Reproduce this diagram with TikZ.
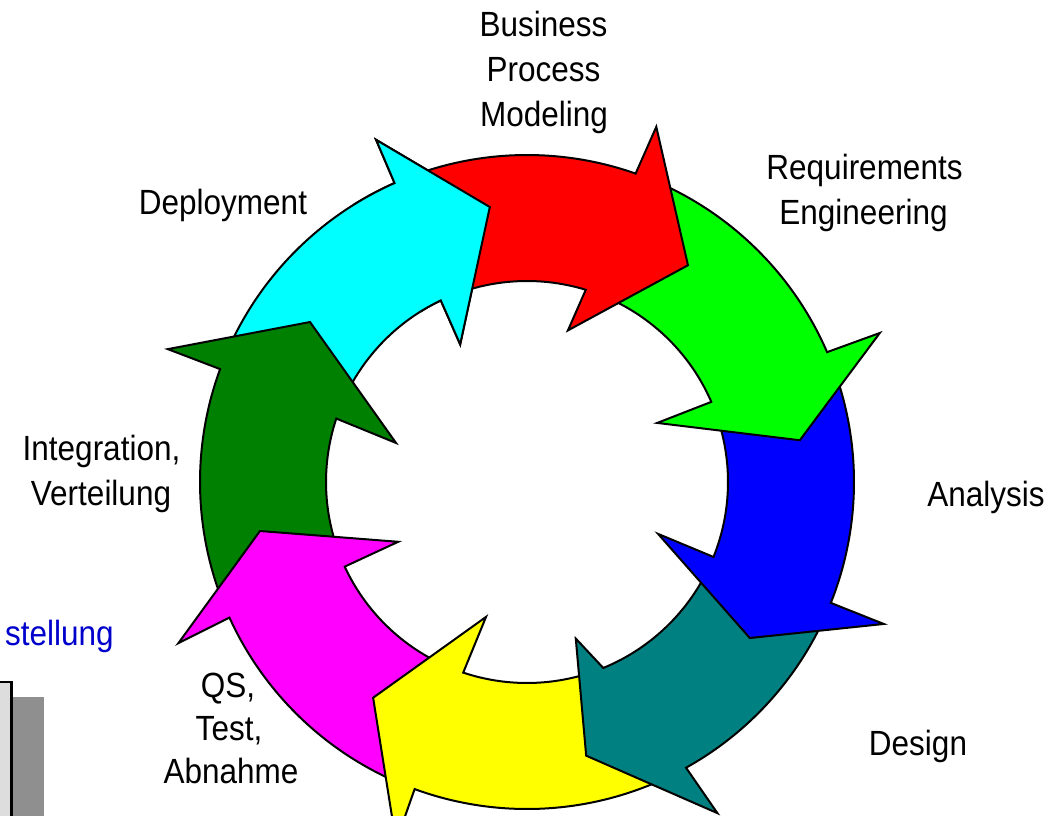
\documentclass[tikz,border=0pt]{standalone}
\usepackage{fontspec}
\setmainfont[FakeStretch=0.9]{Liberation Sans}
\definecolor{cteal}{RGB}{0,128,128}
\definecolor{cdkgreen}{RGB}{0,128,0}
\definecolor{cgreen}{RGB}{0,255,0}
\definecolor{ccyan}{RGB}{0,255,255}
\definecolor{cmagenta}{RGB}{255,0,255}
\definecolor{cyellow}{RGB}{255,255,0}
\definecolor{cred}{RGB}{255,0,0}
\definecolor{cblue}{RGB}{0,0,255}
\definecolor{lblblue}{RGB}{0,0,204}
\definecolor{boxgrey}{RGB}{221,221,221}
\definecolor{shadowgrey}{RGB}{143,143,143}
\def\Ro{327}
\def\Ri{201}
% #1 colour, #2 tail outer angle, #3 tail inner angle, #4 outer notch angle,
% #5 outer barb, #6 tip, #7 inner barb, #8 inner notch angle
\newcommand\cycarrow[8]{%
  \fill[#1] (#2:\Ro) arc[start angle=#2, end angle=#4, radius=\Ro] -- (#5) -- (#6) -- (#7)
     -- (#8:\Ri) arc[start angle=#8, end angle=#3, radius=\Ri] -- cycle;
  \draw[outline] (#2:\Ro) arc[start angle=#2, end angle=#4, radius=\Ro] -- (#5) -- (#6) -- (#7)
     -- (#8:\Ri) arc[start angle=#8, end angle=#3, radius=\Ri];
}
\begin{document}
\begin{tikzpicture}[x=0.5pt,y=0.5pt,
  outline/.style={draw=black, line width=1pt},
  lbl/.style={font=\fontsize{17.5}{21}\selectfont, inner sep=0pt, anchor=base}]
\clip (0,0) rectangle (1052,815);
\fill[white] (0,0) rectangle (1052,815);

% partial box at lower left
\fill[shadowgrey] (12,-20) rectangle (44,118);
\filldraw[fill=boxgrey, draw=black, line width=1.2pt] (-20,-20) rectangle (11.5,133);
\node[lbl, anchor=base east, text=lblblue] (stellung) at (114,170) {stellung};

\begin{scope}[shift={(527,333)}]
  % cyan: Deployment
  \cycarrow{ccyan}{-200.2}{-198.4}{-246.1}{-246.2:374}{-262.3:277.5}{-244.1:153}{-244.6}
  % dark green: Integration
  \cycarrow{cdkgreen}{-155.5}{-155.1}{-200.2}{-200.3:383}{-216.4:269.6}{-196.6:136.7}{-198.4}
  % magenta: QS
  \cycarrow{cmagenta}{-110.1}{-108.5}{-155.5}{-155.2:384}{-169.6:271.5}{-155.1:142}{-155.1}
  % yellow
  \cycarrow{cyellow}{-60.9}{-67.7}{-110.1}{-110:383}{-125.5:265}{-106.9:141}{-108.5}
  % teal: Design
  \cycarrow{cteal}{-21.7}{-21.9}{-60.9}{-60.1:382}{-77.8:280}{-72.7:164}{-67.7}
  % blue: Analysis
  \cycarrow{cblue}{23.4}{23.5}{-21.7}{-21.7:384}{-35.0:272}{-21.6:141}{-21.9}
  % green: Requirements
  \cycarrow{cgreen}{70.6}{73.0}{23.4}{22.9:383}{8.7:276}{24.4:143}{23.5}
  % red: Business Process Modeling
  \cycarrow{cred}{113.9}{115.4}{70.6}{70.0:378}{53.4:270}{74.9:157}{73.0}
  % cyan head again, on top of the red tail
  \begin{scope}
    \clip (0,0) -- (-238:460) -- (-280:460) -- cycle;
    \cycarrow{ccyan}{-200.2}{-198.4}{-246.1}{-246.2:374}{-262.3:277.5}{-244.1:153}{-244.6}
  \end{scope}
\end{scope}

% labels
\node[lbl] (bpm1) at (543.5,778) {Business};
\node[lbl] (bpm2) at (543.5,733) {Process};
\node[lbl] (bpm3) at (544,688) {Modeling};
\node[lbl] (req1) at (864.5,635) {Requirements};
\node[lbl] (req2) at (863.5,590) {Engineering};
\node[lbl] (dep) at (223,600) {Deployment};
\node[lbl] (ana) at (986,309) {Analysis};
\node[lbl] (des) at (918,60) {Design};
\node[lbl] (int1) at (101.5,355) {Integration,};
\node[lbl] (int2) at (101,310) {Verteilung};
\node[lbl] (qs1) at (228,118) {QS,};
\node[lbl] (qs2) at (229,75) {Test,};
\node[lbl] (qs3) at (231,32) {Abnahme};
\end{tikzpicture}
\end{document}
